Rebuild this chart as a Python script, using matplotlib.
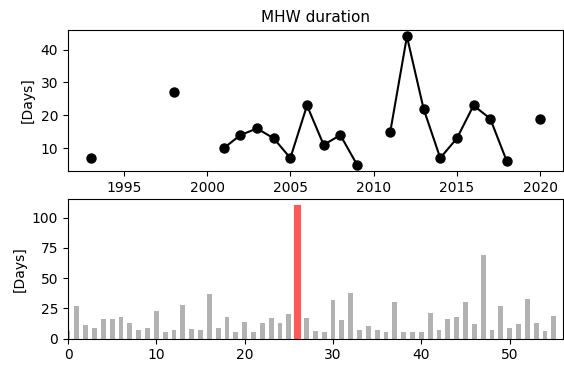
import numpy as np
import matplotlib
matplotlib.use("Agg")
import matplotlib.pyplot as plt

# yearly MHW duration (NaN = no event that year)
years = np.arange(1993, 2021)
duration = [7, np.nan, np.nan, np.nan, np.nan, 27, np.nan, np.nan,
            10, 14, 16, 13, 7, 23, 11, 14, 5, np.nan,
            15, 44, 22, 7, 13, 23, 19, 6, np.nan, 19]

# individual event durations
event_days = [6, 27, 11, 9, 16, 16, 18, 13, 7, 9,
              23, 5, 7, 28, 8, 7, 37, 9, 18, 5,
              14, 5, 13, 17, 13, 20, 110, 17, 6, 5,
              32, 15, 38, 7, 10, 7, 5, 30, 5, 5,
              5, 21, 7, 16, 18, 30, 12, 69, 7, 27,
              9, 12, 33, 13, 6, 19]
highlight = 26

fig = plt.figure(figsize=(5.64, 3.71), dpi=100)
ax1 = fig.add_axes([0.1206, 0.539, 0.877, 0.38])
ax2 = fig.add_axes([0.1206, 0.0876, 0.877, 0.376])

ax1.plot(years, duration, color='black', marker='o', markersize=6.5, linewidth=1.5)
ax1.set_title("MHW duration", fontsize=11)
ax1.set_ylabel("[Days]")

idx = np.arange(len(event_days))
ax2.bar(idx, event_days, width=0.55, color='gray', alpha=0.6)
ax2.bar(idx[highlight], event_days[highlight], width=0.55, color='#ff5a5a',
        edgecolor='#ff5a5a', linewidth=1.5)
ax2.set_xlim(0, 56)
ax2.set_ylabel("[Days]")

fig.savefig("out.png", dpi=100)
